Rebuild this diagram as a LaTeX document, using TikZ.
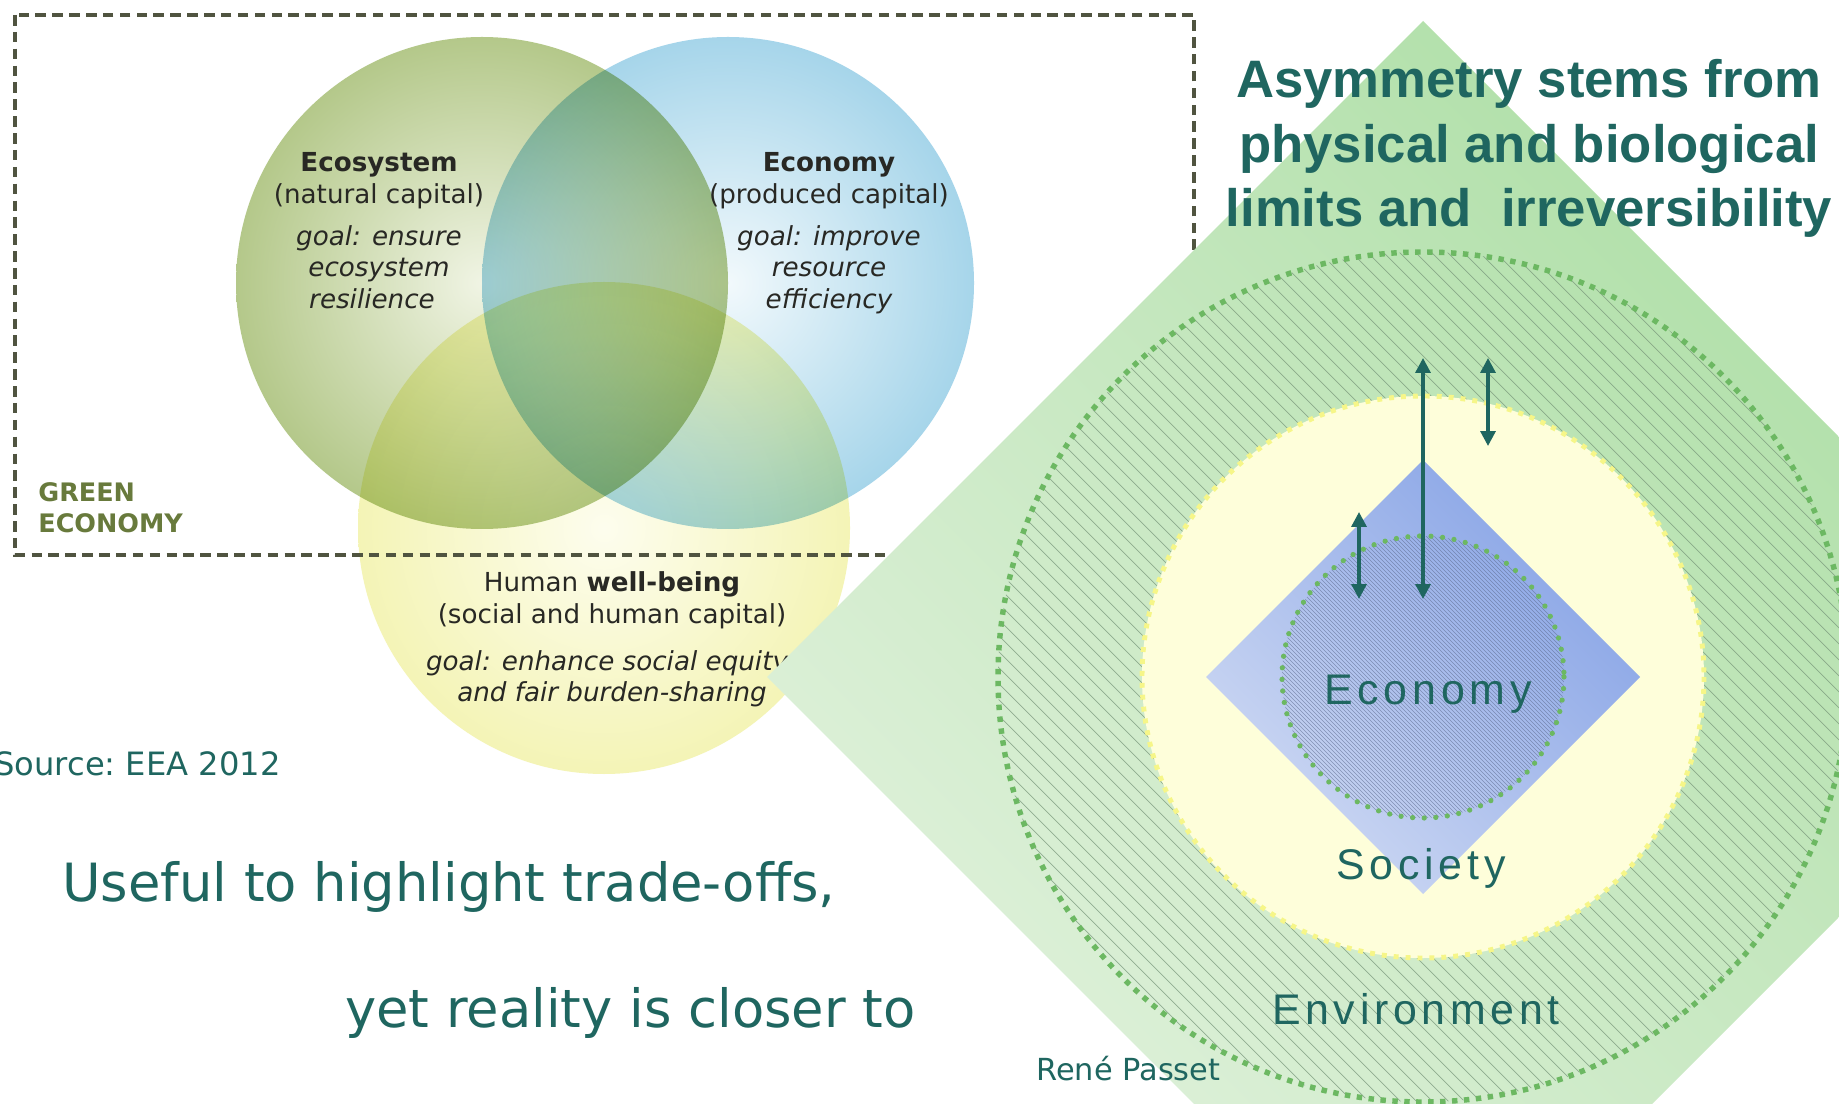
\documentclass[tikz,border=0pt]{standalone}
\usepackage{fontspec}
\setmainfont{DejaVu Sans}
\newfontfamily\headfont{Liberation Sans}
\newfontfamily\ringfont[LetterSpace=11]{Liberation Sans}
\usepackage{tikz}
\usetikzlibrary{positioning,arrows.meta}

\definecolor{passteal}{RGB}{31,102,96}
\definecolor{venntext}{RGB}{40,40,36}
\definecolor{boxolive}{RGB}{80,84,64}
\definecolor{labelolive}{RGB}{104,122,60}
\definecolor{ecoout}{RGB}{180,200,138}
\definecolor{ecoin}{RGB}{240,244,228}
\definecolor{econout}{RGB}{166,213,234}
\definecolor{econin}{RGB}{242,249,252}
\definecolor{humout}{RGB}{244,244,182}
\definecolor{humin}{RGB}{253,253,238}
\definecolor{envlight}{RGB}{226,242,222}
\definecolor{envdark}{RGB}{172,222,164}
\definecolor{envdots}{RGB}{108,184,98}
\definecolor{hatch}{RGB}{120,150,122}
\definecolor{socfill}{RGB}{254,254,218}
\definecolor{socdots}{RGB}{246,246,136}
\definecolor{ecolight}{RGB}{206,217,243}
\definecolor{ecodark}{RGB}{136,164,230}
\definecolor{innerhatch}{RGB}{90,104,140}

\begin{document}
\begin{tikzpicture}[%
    x=0.02cm, y=-0.02cm,
    >={Triangle[width=8.5pt,length=8.5pt]},
    node distance=0.63cm,
    on grid,
    venn/.style={font=\fontsize{14.9}{17}\selectfont, text=venntext,
      inner sep=0pt, text height=11pt, text depth=3.5pt},
    venngoal/.style={venn, font=\fontsize{14.9}{17}\selectfont\itshape},
    vennhead/.style={venn, font=\fontsize{14.9}{17}\selectfont\bfseries},
    boxlabel/.style={font=\fontsize{14.5}{17}\selectfont\bfseries,
      text=labelolive, inner sep=0pt, anchor=base west},
    remark/.style={font=\fontsize{30}{36}\selectfont, text=passteal,
      inner sep=0pt, anchor=base west},
    headline/.style={font=\headfont\bfseries\fontsize{30}{36}\selectfont,
      text=passteal, inner sep=0pt, text height=22pt, text depth=6.5pt},
    ringlabel/.style={font=\ringfont\fontsize{24.4}{29}\selectfont,
      text=passteal, inner sep=0pt, anchor=base},
    flow/.style={<->, draw=passteal, line width=1.9pt}
    ]

    \useasboundingbox (0,0) rectangle (1839,1104);
    \clip (0,0) rectangle (1839,1104);
    \fill[white] (0,0) rectangle (1839,1104);

    % green economy venn
    \begin{scope}[blend mode=multiply]
        \shade[inner color=ecoin, outer color=ecoout] (482,283) circle[radius=246];
        \shade[inner color=econin, outer color=econout] (728,283) circle[radius=246];
        \shade[inner color=humin, outer color=humout] (604,528) circle[radius=246];
    \end{scope}
    \draw[boxolive, line width=2.2pt, dash pattern=on 6pt off 3.6pt]
        (15,15) rectangle (1194,555);

    \node[vennhead] (eco1) at (379,165) {Ecosystem};
    \node[venn] (eco2) [below of=eco1] {(natural capital)};
    \node[venngoal] (eco3) [below of=eco2, node distance=0.84cm] {goal: ensure};
    \node[venngoal] (eco4) [below of=eco3] {ecosystem};
    \node[venngoal] (eco5) [below of=eco4, xshift=-0.14cm] {resilience};

    \node[vennhead] (econ1) at (829,165) {Economy};
    \node[venn] (econ2) [below of=econ1] {(produced capital)};
    \node[venngoal] (econ3) [below of=econ2, node distance=0.84cm] {goal: improve};
    \node[venngoal] (econ4) [below of=econ3] {resource};
    \node[venngoal] (econ5) [below of=econ4] {efficiency};

    \node[venn] (hum1) at (612,585) {Human \textbf{well-being}};
    \node[venn] (hum2) [below of=hum1] {(social and human capital)};
    \node[venngoal] (hum3) [below of=hum2, node distance=0.94cm, xshift=-0.1cm]
        {goal: enhance social equity};
    \node[venngoal] (hum4) [below of=hum3, xshift=0.1cm] {and fair burden-sharing};

    \node[boxlabel] (green) at (38,502) {GREEN};
    \node[boxlabel] (greeneco) at (38,533) {ECONOMY};

    \node[remark, font=\fontsize{18.3}{22}\selectfont] (source) at (-6,775)
        {Source:\ EEA 2012};
    \node[remark] (useful) at (62,901) {Useful to highlight trade-offs,};
    \node[remark] (closer) at (345,1027) {yet reality is closer to};

    % nested spheres
    \shade[left color=envlight, right color=envdark, shading angle=135]
        (1423,21) -- (2079,677) -- (1423,1333) -- (767,677) -- cycle;
    \begin{scope}
        \clip (1423,677) circle[radius=425];
        \foreach \x in {316,332,...,1532}
            \draw[hatch, line width=0.4pt, opacity=0.75] (\x,177) -- ++(1000,1000);
    \end{scope}
    \draw[envdots, line width=3.1pt, dash pattern=on 3.1pt off 3.7pt]
        (1423,677) circle[radius=425];
    \fill[socfill] (1423,677) circle[radius=281];
    \draw[socdots, line width=2.8pt, dash pattern=on 2.8pt off 4pt]
        (1423,677) circle[radius=281];
    \shade[left color=ecolight, right color=ecodark, shading angle=135]
        (1423,460) -- (1640,677) -- (1423,894) -- (1206,677) -- cycle;
    \begin{scope}
        \clip (1423,677) circle[radius=141];
        \foreach \x in {1023,1027,...,1423}
            \draw[innerhatch, line width=0.3pt, opacity=0.6] (\x,477) -- ++(400,400);
    \end{scope}
    \draw[envdots, line width=3pt, line cap=round, dash pattern=on 0pt off 6.6pt]
        (1423,677) circle[radius=141];

    \coordinate (longtop) at (1423,358);
    \coordinate (longbot) at (1423,599);
    \coordinate (outtop) at (1488,358);
    \coordinate (outbot) at (1488,446);
    \coordinate (intop) at (1359,512);
    \coordinate (inbot) at (1359,599);
    \draw[flow] (longtop) -- (longbot);
    \draw[flow] (outtop) -- (outbot);
    \draw[flow] (intop) -- (inbot);

    \node[ringlabel] (economy) at (1428,704) {Economy};
    \node[ringlabel] (society) at (1421,879) {Society};
    \node[ringlabel] (environment) at (1416,1024) {Environment};
    \node[remark, font=\fontsize{17.3}{21}\selectfont] (passet) at (1036,1080)
        {René Passet};

    \node[headline] (title1) at (1529,84) {Asymmetry stems from};
    \node[headline] (title2) [below of=title1, node distance=1.29cm]
        {physical and biological};
    \node[headline] (title3) [below of=title2, node distance=1.29cm]
        {limits and\ \ irreversibility};

\end{tikzpicture}
\end{document}
